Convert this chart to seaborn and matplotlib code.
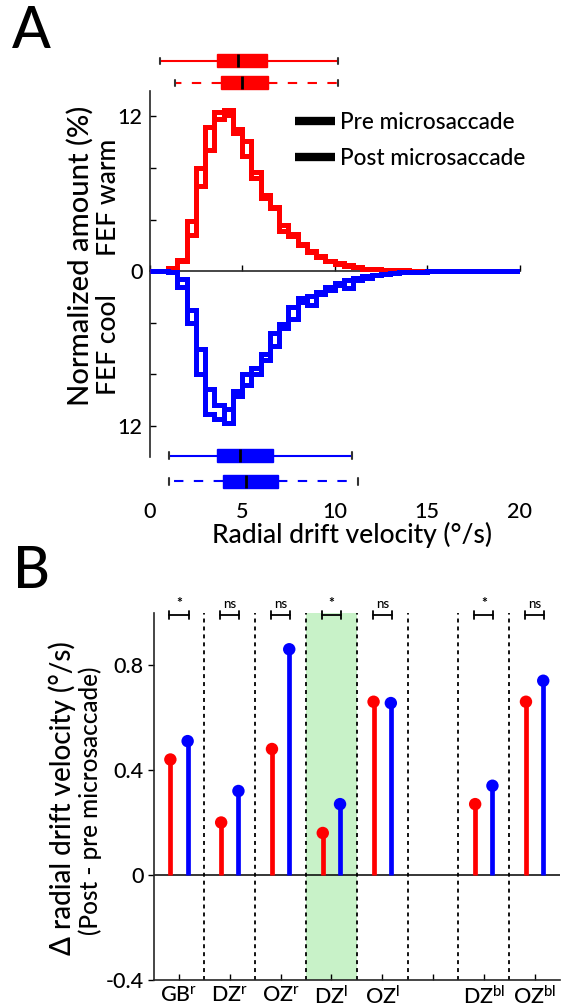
import numpy as np
import pandas as pd
import matplotlib
matplotlib.use("Agg")
import matplotlib.pyplot as plt
from matplotlib.lines import Line2D
import seaborn as sns

# ---------------- data ----------------
# Panel A: radial drift velocity distributions, 0.5 deg/s bins from 0 to 20
bin_width = 0.5
warm_pre = [0, 0, 0.25, 0.85, 3.85, 8.0, 11.2, 12.3, 12.1, 10.7, 8.9, 7.2, 5.7, 4.9,
            3.1, 2.7, 2.0, 1.5, 1.1, 0.75, 0.55, 0.4, 0.3, 0.2, 0.15, 0.1, 0.05, 0.05,
            0, 0, 0, 0, 0, 0, 0, 0, 0, 0, 0, 0]
warm_post = [0, 0, 0.2, 0.8, 2.8, 6.6, 9.4, 11.8, 12.5, 11.0, 10.1, 7.7, 5.9, 5.0,
             3.6, 2.9, 2.1, 1.6, 1.2, 0.8, 0.6, 0.5, 0.35, 0.2, 0.2, 0.1, 0.1, 0.1,
             0, 0, 0, 0, 0, 0, 0, 0, 0, 0, 0, 0]
cool_pre = [0, 0, -0.1, -1.25, -4.0, -8.0, -11.1, -11.5, -10.7, -9.3, -8.0, -7.5, -6.4, -4.8,
            -4.1, -2.8, -2.1, -1.9, -1.6, -1.2, -0.9, -0.7, -0.5, -0.4, -0.3, -0.2, -0.15, -0.1,
            -0.05, -0.05, 0, 0, 0, 0, 0, 0, 0, 0, 0, 0]
cool_post = [0, 0, -0.05, -0.6, -3.0, -6.0, -9.1, -10.4, -11.8, -9.7, -8.8, -8.0, -6.9, -5.8,
             -4.4, -3.7, -2.4, -2.6, -1.8, -1.5, -1.1, -1.3, -0.7, -0.5, -0.3, -0.25, -0.15, -0.1,
             -0.05, -0.05, 0, 0, 0, 0, 0, 0, 0, 0, 0, 0]

# box summaries: whisker low, q1, median, q3, whisker high
warm_pre_box = [0.57, 3.63, 4.77, 6.34, 10.19]
warm_post_box = [1.38, 3.85, 4.98, 6.42, 10.19]
cool_pre_box = [1.07, 3.63, 4.89, 6.66, 10.96]
cool_post_box = [1.07, 3.96, 5.22, 6.96, 11.29]

# Panel B: post - pre change in radial drift velocity per subject/condition
categories = ["GB$^{\\mathrm{r}}$", "DZ$^{\\mathrm{r}}$", "OZ$^{\\mathrm{r}}$",
              "DZ$^{\\mathrm{l}}$", "OZ$^{\\mathrm{l}}$", "",
              "DZ$^{\\mathrm{bl}}$", "OZ$^{\\mathrm{bl}}$"]
delta_warm = [0.44, 0.20, 0.48, 0.16, 0.66, np.nan, 0.27, 0.66]
delta_cool = [0.51, 0.32, 0.86, 0.27, 0.655, np.nan, 0.34, 0.74]
significance = ["*", "ns", "ns", "*", "ns", "", "*", "ns"]

RED = "#ff0000"
BLUE = "#0000ff"

# ---------------- style ----------------
sns.set_theme(style="ticks")
FONT = "Lato"
plt.rcParams["font.family"] = [FONT, "DejaVu Sans"]
plt.rcParams["font.weight"] = "medium"
plt.rcParams["mathtext.fontset"] = "custom"
plt.rcParams["mathtext.rm"] = FONT + ":medium"
plt.rcParams["mathtext.it"] = FONT + ":italic"
plt.rcParams["mathtext.bf"] = FONT + ":bold"
plt.rcParams["axes.linewidth"] = 1.2
plt.rcParams["text.color"] = "black"
plt.rcParams["xtick.color"] = "black"
plt.rcParams["ytick.color"] = "black"
FS_TICK = 15.5
FS_LABEL = 21
FS_XLABEL = 19
FS_SIDE = 19
FS_LEG = 16.3

W, H = 561, 1007
fig = plt.figure(figsize=(W / 100, H / 100), dpi=100)


def fx(px):
    return px / W


def fy(py):
    return 1 - py / H


# ---------------- panel A ----------------
y_top, y_bot = 17.3, -17.2
axA = fig.add_axes([fx(149.5), fy(493), fx(519.5) - fx(149.5), fy(48) - fy(493)])
edges = np.arange(len(warm_pre) + 1) * bin_width

for vals in (warm_pre, warm_post):
    axA.stairs(vals, edges, color=RED, lw=3.6, baseline=None, zorder=3)
for vals in (cool_pre, cool_post):
    axA.stairs(vals, edges, color=BLUE, lw=3.6, baseline=None, zorder=4)


def box_stats(b):
    return dict(whislo=b[0], q1=b[1], med=b[2], q3=b[3], whishi=b[4], fliers=[])


def draw_box(ax, b, ypos, color, dashed):
    ls = (0, (4.5, 5)) if dashed else "-"
    ax.bxp([box_stats(b)], positions=[ypos], widths=1.0, orientation="horizontal",
           patch_artist=True, showfliers=False, capwidths=0.5,
           boxprops=dict(facecolor=color, edgecolor=color, lw=1),
           whiskerprops=dict(color=color, lw=1.5, linestyle=ls),
           capprops=dict(color="#333333", lw=1.5),
           medianprops=dict(color="black", lw=2),
           manage_ticks=False, zorder=5)


draw_box(axA, warm_pre_box, 16.3, RED, False)
draw_box(axA, warm_post_box, 14.6, RED, True)
draw_box(axA, cool_pre_box, -14.3, BLUE, False)
draw_box(axA, cool_post_box, -16.3, BLUE, True)

axA.set_xlim(0, 20)
axA.set_ylim(y_bot, y_top)
for s in ("top", "right"):
    axA.spines[s].set_visible(False)
axA.spines["left"].set_bounds(-14.4, 14.0)
axA.spines["bottom"].set_position(("data", 0))
axA.spines["bottom"].set_linewidth(1.2)
axA.set_xticks([0, 5, 10, 15, 20])
axA.tick_params(axis="x", direction="in", length=4, width=1, labelbottom=False)
axA.set_yticks([-12, 0, 12])
axA.set_yticklabels(["12", "0", "12"])
axA.set_yticks([-8, -4, 4, 8], minor=True)
axA.tick_params(axis="y", which="both", direction="in", length=4, width=1,
                labelsize=FS_TICK, pad=5)
axA.patch.set_alpha(0)

secA = axA.secondary_xaxis(-0.016)
secA.set_xticks([0, 5, 10, 15, 20])
secA.tick_params(length=0, pad=1, labelsize=FS_TICK)
secA.spines["bottom"].set_visible(False)

# axis title placed under the tick labels, slightly right of centre
axA.text(0.548, -0.095, "Radial drift velocity (°/s)", transform=axA.transAxes,
         ha="center", va="center", fontsize=FS_XLABEL)

handles = [Line2D([], [], color="black", lw=6, solid_capstyle="butt"),
           Line2D([], [], color="black", lw=6, solid_capstyle="butt")]
fig.legend(handles, ["Pre microsaccade", "Post microsaccade"], loc="upper left",
           bbox_to_anchor=(fx(295), fy(112)), bbox_transform=fig.transFigure,
           frameon=False, fontsize=FS_LEG, handlelength=1.75, handletextpad=0.25,
           labelspacing=0.65, borderpad=0, borderaxespad=0)

fig.text(fx(80), fy(256), "Normalized amount (%)", rotation=90, ha="center",
         va="center", fontsize=FS_LABEL)
fig.text(fx(108), fy(197), "FEF warm", rotation=90, ha="center", va="center",
         fontsize=FS_SIDE)
fig.text(fx(108), fy(345), "FEF cool", rotation=90, ha="center", va="center",
         fontsize=FS_SIDE)
fig.text(fx(31), fy(31), "A", ha="center", va="center", fontsize=41)

# ---------------- panel B ----------------
axB = fig.add_axes([fx(153.6), fy(980), fx(560) - fx(153.6), fy(612.5) - fy(980)])
pos = np.arange(1, len(categories) + 1)
dfB = pd.DataFrame({
    "pos": np.concatenate([pos - 0.17, pos + 0.17]),
    "delta": np.concatenate([delta_warm, delta_cool]),
    "state": ["warm"] * len(pos) + ["cool"] * len(pos),
}).dropna()

axB.axvspan(3.5, 4.5, color="#c8f2c8", lw=0, zorder=0)
axB.vlines(np.arange(1.5, len(categories), 1.0), -0.4, 1.0, colors="black",
           linestyles=(0, (2.2, 2.2)), lw=1.3, zorder=1)
axB.axhline(0, color="black", lw=1.1, zorder=1)

for state, color in (("warm", RED), ("cool", BLUE)):
    d = dfB[dfB["state"] == state]
    axB.vlines(d["pos"], 0, d["delta"], colors=color, lw=3.4, zorder=3)
sns.scatterplot(data=dfB, x="pos", y="delta", hue="state",
                palette={"warm": RED, "cool": BLUE}, s=80, linewidth=0,
                legend=False, ax=axB, zorder=4, clip_on=False)

for p, lab in zip(pos, significance):
    if not lab:
        continue
    axB.plot([p - 0.19, p + 0.19], [0.99, 0.99], color="black", lw=1.3,
             clip_on=False, zorder=5)
    for e in (p - 0.19, p + 0.19):
        axB.plot([e, e], [0.975, 1.005], color="black", lw=1.3, clip_on=False, zorder=5)
    if lab == "*":
        axB.text(p, 1.012, lab, ha="center", va="bottom", fontsize=10,
                 fontweight="bold")
    else:
        axB.text(p, 1.008, lab, ha="center", va="bottom", fontsize=9.5)

axB.set_xlim(0.5, len(categories) + 0.5)
axB.set_ylim(-0.4, 1.0)
for s in ("top", "right"):
    axB.spines[s].set_visible(False)
axB.set_xticks(pos)
axB.set_xticklabels(categories, fontsize=FS_TICK)
axB.tick_params(axis="x", direction="in", length=4, width=1, pad=4)
axB.set_yticks([-0.4, 0, 0.4, 0.8])
axB.set_yticklabels(["-0.4", "0", "0.4", "0.8"])
axB.tick_params(axis="y", direction="out", length=4, width=1, labelsize=FS_TICK, pad=3)
axB.set_xlabel("")
axB.set_ylabel("")

fig.text(fx(62), fy(798), "Δ radial drift velocity (°/s)", rotation=90,
         ha="center", va="center", fontsize=20)
fig.text(fx(90), fy(801), "(Post - pre microsaccade)", rotation=90,
         ha="center", va="center", fontsize=17.5)
fig.text(fx(31), fy(572), "B", ha="center", va="center", fontsize=41)

fig.savefig("out.png", dpi=100)
